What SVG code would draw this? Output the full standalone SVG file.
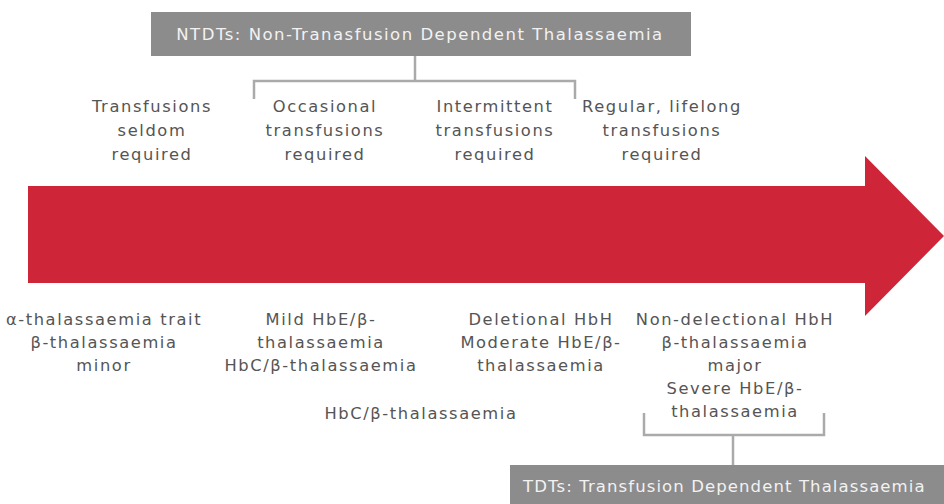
<svg xmlns="http://www.w3.org/2000/svg" width="944" height="504" viewBox="0 0 944 504">
<style>
.t{font-family:"DejaVu Sans","Liberation Sans",sans-serif;font-size:16.3px;fill:#555;text-anchor:middle;letter-spacing:1.6px}
.h{font-family:"DejaVu Sans","Liberation Sans",sans-serif;font-size:16.5px;fill:#f2f2f2;letter-spacing:1.5px}
.box{fill:#8c8c8c}
.ln{fill:none;stroke:#aaaaaa;stroke-width:2.5}
</style>
<rect width="944" height="504" fill="#ffffff"/>
<g id="arrow">
<path d="M28 186 H865 V156 L944 236 L865 316 V283 H28 Z" fill="#ce2538"/>
</g>
<g id="ntdt">
<rect class="box" x="151" y="12" width="540" height="44"/>
<text class="h" x="420" y="40" text-anchor="middle">NTDTs: Non-Tranasfusion Dependent Thalassaemia</text>
</g>
<g id="tdt">
<rect class="box" x="510" y="465" width="434" height="39"/>
<text class="h" x="523" y="492" style="letter-spacing:1.1px">TDTs: Transfusion Dependent Thalassaemia</text>
</g>
<g id="connectors">
<path class="ln" d="M415 56 V81 M254 99 V81 H575 V99"/>
<path class="ln" d="M644 413 V435 H824 V413 M733 435 V465"/>
</g>
<g id="top-labels">
<g id="seldom"><text class="t" x="152" y="112">Transfusions</text><text class="t" x="152" y="136">seldom</text><text class="t" x="152" y="160">required</text></g>
<g id="occasional"><text class="t" x="325" y="112">Occasional</text><text class="t" x="325" y="136">transfusions</text><text class="t" x="325" y="160">required</text></g>
<g id="intermittent"><text class="t" x="495" y="112">Intermittent</text><text class="t" x="495" y="136">transfusions</text><text class="t" x="495" y="160">required</text></g>
<g id="regular"><text class="t" x="662" y="112">Regular, lifelong</text><text class="t" x="662" y="136">transfusions</text><text class="t" x="662" y="160">required</text></g>
</g>
<g id="bottom-labels">
<g id="minor"><text class="t" x="104" y="325">α-thalassaemia trait</text><text class="t" x="104" y="348">β-thalassaemia</text><text class="t" x="104" y="371">minor</text></g>
<g id="mild"><text class="t" x="321" y="325">Mild HbE/β-</text><text class="t" x="321" y="348">thalassaemia</text><text class="t" x="321" y="371">HbC/β-thalassaemia</text></g>
<g id="hbc"><text class="t" x="421" y="419">HbC/β-thalassaemia</text></g>
<g id="deletional"><text class="t" x="541" y="325">Deletional HbH</text><text class="t" x="541" y="348">Moderate HbE/β-</text><text class="t" x="541" y="371">thalassaemia</text></g>
<g id="nondeletional"><text class="t" x="735" y="325">Non-delectional HbH</text><text class="t" x="735" y="348">β-thalassaemia</text><text class="t" x="735" y="371">major</text><text class="t" x="735" y="394">Severe HbE/β-</text><text class="t" x="735" y="417">thalassaemia</text></g>
</g>
</svg>
